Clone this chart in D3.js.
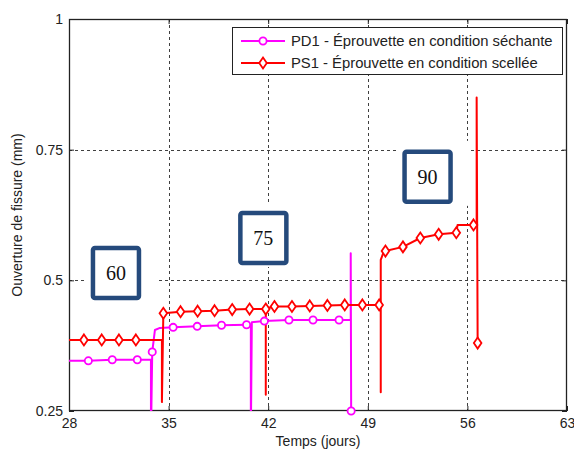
<!DOCTYPE html>
<html>
<head>
<meta charset="utf-8">
<script src="https://cdn.jsdelivr.net/npm/d3@7"></script>
<style>
  html, body { margin: 0; padding: 0; background: #fff; }
  svg { display: block; }
  text { font-family: "Liberation Sans", Arial, sans-serif; }
</style>
</head>
<body>
<svg id="chart" width="574" height="450"></svg>
<script>
// ---- data ----
const xTicks = [28, 35, 42, 49, 56, 63];
const yTicks = [0.25, 0.5, 0.75, 1];
const yTickLabels = ["0.25", "0.5", "0.75", "1"];

const pd1Name = "PD1 - Éprouvette en condition séchante";
const pd1Days   = [28, 29.36, 31.04, 32.80, 33.76, 33.76, 33.85, 34.04, 34.39, 35.32, 37.01, 38.72, 40.48, 40.78, 40.78, 40.85, 41.73, 43.46, 45.15, 46.98, 47.80, 47.80, 47.83];
const pd1Values = [0.346, 0.346, 0.348, 0.348, 0.348, 0.20, 0.363, 0.405, 0.409, 0.410, 0.412, 0.414, 0.415, 0.415, 0.20, 0.420, 0.422, 0.424, 0.424, 0.424, 0.424, 0.552, 0.250];
const pd1Markers = [1, 2, 3, 6, 9, 10, 11, 12, 16, 17, 18, 19, 22];

const ps1Name = "PS1 - Éprouvette en condition scellée";
const ps1Days   = [28, 29.05, 30.30, 31.51, 32.70, 34.53, 34.53, 34.63, 35.84, 37.04, 38.23, 39.47, 40.69, 41.83, 41.83, 41.83, 42.44, 43.67, 44.92, 46.16, 47.38, 48.62, 49.80, 49.91, 49.91, 49.91, 50.07, 50.24, 51.47, 52.69, 53.98, 55.22, 55.31, 56.43, 56.65, 56.65, 56.72];
const ps1Values = [0.386, 0.386, 0.386, 0.386, 0.386, 0.386, 0.267, 0.437, 0.440, 0.441, 0.442, 0.444, 0.445, 0.445, 0.281, 0.446, 0.450, 0.450, 0.451, 0.452, 0.453, 0.453, 0.453, 0.453, 0.286, 0.539, 0.551, 0.556, 0.564, 0.581, 0.588, 0.591, 0.606, 0.606, 0.606, 0.850, 0.380];
const ps1Markers = [1, 2, 3, 4, 7, 8, 9, 10, 11, 12, 13, 16, 17, 18, 19, 20, 21, 22, 27, 28, 29, 30, 31, 33, 36];

// annotation boxes (temperature labels), anchored at their centre in data units
const noteLabels = ["60", "75", "90"];
const noteDays   = [31.30, 41.66, 53.20];
const noteValues = [0.514, 0.581, 0.698];

const xTitle = "Temps (jours)";
const yTitle = "Ouverture de fissure (mm)";

// ---- layout ----
const svg = d3.select("#chart");
const L = 69, R = 567, T = 19, B = 411;
const x = d3.scaleLinear().domain([28, 63]).range([L, R]);
const y = d3.scaleLinear().domain([0.25, 1]).range([B, T]);

svg.append("defs").append("clipPath").attr("id", "plotclip")
  .append("rect").attr("x", L).attr("y", T).attr("width", R - L).attr("height", B - T);

// grid
const grid = svg.append("g").attr("stroke", "#404040").attr("stroke-width", 1).attr("stroke-dasharray", "3,3");
grid.selectAll("line.vx").data(xTicks.slice(1, -1)).join("line")
  .attr("x1", d => Math.round(x(d)) + 0.5).attr("x2", d => Math.round(x(d)) + 0.5)
  .attr("y1", T).attr("y2", B);
grid.selectAll("line.hy").data(yTicks.slice(1, -1)).join("line")
  .attr("y1", d => Math.round(y(d)) + 0.5).attr("y2", d => Math.round(y(d)) + 0.5)
  .attr("x1", L).attr("x2", R);

// annotation boxes
const noteW = 50, noteH = 54;
const notes = svg.append("g");
noteLabels.forEach((lab, i) => {
  const cx = x(noteDays[i]), cy = y(noteValues[i]);
  notes.append("rect").attr("x", cx - noteW / 2 - 5).attr("y", cy - noteH / 2 - 9)
    .attr("width", noteW + 23).attr("height", noteH + 11).attr("fill", "#fff");
  notes.append("rect").attr("x", cx - noteW / 2 + 2).attr("y", cy - noteH / 2 + 2)
    .attr("width", noteW - 4).attr("height", noteH - 4).attr("rx", 2)
    .attr("fill", "#fff").attr("stroke", "#254a7c").attr("stroke-width", 4.5);
  notes.append("text").attr("x", cx).attr("y", cy).attr("dy", "0.35em")
    .attr("text-anchor", "middle").style("font-family", "'Liberation Serif', 'Times New Roman', serif")
    .style("font-size", "20px").attr("fill", "#111").text(lab);
});

// axes (inward ticks)
const xAxis = svg.append("g").attr("transform", `translate(0,${B})`)
  .call(d3.axisBottom(x).tickValues(xTicks).tickSize(-5).tickPadding(7).tickFormat(d3.format("d")));
const yAxis = svg.append("g").attr("transform", `translate(${L},0)`)
  .call(d3.axisLeft(y).tickValues(yTicks).tickSize(-5).tickPadding(6).tickFormat((d, i) => yTickLabels[i]));
svg.append("g").attr("transform", `translate(0,${T})`)
  .call(d3.axisTop(x).tickValues(xTicks).tickSize(-5).tickFormat(""));
svg.append("g").attr("transform", `translate(${R},0)`)
  .call(d3.axisRight(y).tickValues(yTicks).tickSize(-5).tickFormat(""));
svg.selectAll(".domain").remove();
svg.selectAll(".tick line").attr("stroke", "#222");
[xAxis, yAxis].forEach(a => a.selectAll("text")
  .style("font-family", "'Liberation Sans', Arial, sans-serif").style("font-size", "14px").attr("fill", "#222"));
svg.append("rect").attr("x", L + 0.5).attr("y", T + 0.5).attr("width", R - L - 1).attr("height", B - T - 1)
  .attr("fill", "none").attr("stroke", "#222").attr("stroke-width", 1.3);

// data
const series = [
  { name: pd1Name, days: pd1Days, values: pd1Values, marks: pd1Markers, color: "#ff00ff", shape: "circle" },
  { name: ps1Name, days: ps1Days, values: ps1Values, marks: ps1Markers, color: "#ff0000", shape: "diamond" }
];
const line = d3.line().x(d => x(d[0])).y(d => y(d[1]));
const plot = svg.append("g").attr("clip-path", "url(#plotclip)");
function drawMarker(g, shape, color, px, py) {
  if (shape === "circle") {
    g.append("circle").attr("cx", px).attr("cy", py).attr("r", 3.6)
      .attr("fill", "#fff").attr("stroke", color).attr("stroke-width", 1.8);
  } else {
    g.append("path").attr("d", `M${px},${py - 5.5}L${px + 3.8},${py}L${px},${py + 5.5}L${px - 3.8},${py}Z`)
      .attr("fill", "#fff").attr("stroke", color).attr("stroke-width", 1.8);
  }
}
series.forEach(s => {
  const pts = s.days.map((d, i) => [d, s.values[i]]);
  plot.append("path").datum(pts).attr("d", line).attr("fill", "none")
    .attr("stroke", s.color).attr("stroke-width", 2).attr("stroke-linejoin", "round");
});
const markG = svg.append("g");
series.forEach(s => {
  s.marks.forEach(i => drawMarker(markG, s.shape, s.color, x(s.days[i]), y(s.values[i])));
});

// legend
const lg = svg.append("g");
lg.append("rect").attr("x", 232.5).attr("y", 27.5).attr("width", 330).attr("height", 47)
  .attr("fill", "#fff").attr("stroke", "#222").attr("stroke-width", 1);
series.forEach((s, i) => {
  const ly = 41 + i * 22;
  lg.append("line").attr("x1", 241).attr("x2", 285).attr("y1", ly).attr("y2", ly)
    .attr("stroke", s.color).attr("stroke-width", 2);
  drawMarker(lg, s.shape, s.color, 263, ly);
  lg.append("text").attr("x", 291).attr("y", ly).attr("dy", "0.36em")
    .style("font-size", "14.8px").attr("fill", "#222").text(s.name);
});

// titles
svg.append("text").attr("x", (L + R) / 2).attr("y", 446).attr("text-anchor", "middle")
  .style("font-size", "14px").attr("fill", "#222").text(xTitle);
svg.append("text").attr("transform", `translate(22,${(T + B) / 2}) rotate(-90)`).attr("text-anchor", "middle")
  .style("font-size", "14px").attr("fill", "#222").text(yTitle);
</script>
</body>
</html>
